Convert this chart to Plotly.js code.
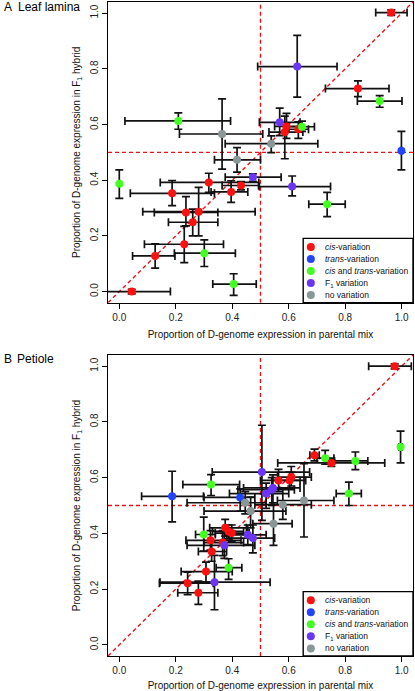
<!DOCTYPE html>
<html>
<head>
<meta charset="utf-8">
<script src="https://cdn.plot.ly/plotly-3.0.1.min.js"></script>
<style>html,body{margin:0;padding:0;background:#fff;}#chart{width:415px;height:691px;}</style>
</head>
<body>
<div id="chart"></div>
<script>
// ---------- Data: Panel A (Leaf lamina) ----------
var aX    = [0.963,0.630,0.845,0.922,0.209,0.568,0.592,0.586,0.634,0.647,0.364,0.538,0.417,0.999,0.736,0.473,0.000,0.317,0.431,0.612,0.187,0.396,0.236,0.281,0.260,0.230,0.127,0.301,0.405,0.044];
var aY    = [1.002,0.808,0.729,0.684,0.613,0.608,0.593,0.573,0.583,0.592,0.566,0.531,0.473,0.506,0.314,0.411,0.387,0.392,0.381,0.377,0.353,0.358,0.284,0.287,0.249,0.170,0.128,0.138,0.027,0.000];
var aXlo  = [0.908,0.490,0.730,0.843,0.020,0.496,0.550,0.530,0.600,0.600,0.213,0.375,0.337,0.999,0.671,0.375,0.000,0.145,0.364,0.496,0.039,0.325,0.124,0.083,0.174,0.089,0.047,0.195,0.331,-0.050];
var aXhi  = [1.019,0.771,0.955,1.001,0.394,0.640,0.640,0.650,0.670,0.691,0.508,0.703,0.500,0.999,0.800,0.573,0.000,0.494,0.493,0.748,0.337,0.455,0.349,0.481,0.349,0.369,0.197,0.411,0.485,0.181];
var aYlo  = [0.992,0.698,0.700,0.662,0.583,0.560,0.550,0.477,0.550,0.575,0.440,0.499,0.429,0.437,0.269,0.396,0.335,0.356,0.365,0.344,0.309,0.320,0.236,0.200,0.200,0.104,0.084,0.090,-0.014,-0.008];
var aYhi  = [1.012,0.920,0.757,0.704,0.642,0.659,0.640,0.630,0.610,0.612,0.692,0.559,0.517,0.575,0.356,0.423,0.437,0.425,0.395,0.415,0.399,0.398,0.341,0.374,0.296,0.234,0.171,0.186,0.064,0.008];
var aCat  = ['cis','F1','cis','both','both','F1','cis','cis','cis','both','none','none','none','trans','both','F1','both','cis','cis','F1','cis','cis','cis','cis','cis','cis','cis','both','both','cis'];

// ---------- Data: Panel B (Petiole) ----------
var bX    = [0.975,0.996,0.691,0.729,0.751,0.836,0.813,0.505,0.325,0.187,0.428,0.564,0.603,0.609,0.544,0.540,0.520,0.446,0.465,0.579,0.654,0.546,0.299,0.323,0.375,0.387,0.398,0.366,0.372,0.327,0.455,0.473,0.387,0.307,0.242,0.337,0.280];
var bY    = [1.000,0.710,0.680,0.670,0.653,0.660,0.543,0.620,0.575,0.533,0.529,0.590,0.590,0.602,0.563,0.557,0.543,0.510,0.480,0.503,0.518,0.435,0.396,0.375,0.420,0.407,0.401,0.367,0.357,0.335,0.395,0.383,0.277,0.263,0.221,0.225,0.187];
var bXlo  = [0.883,0.990,0.675,0.700,0.561,0.762,0.768,0.329,0.225,0.079,0.300,0.500,0.540,0.560,0.440,0.420,0.390,0.240,0.300,0.480,0.560,0.473,0.270,0.236,0.320,0.330,0.340,0.300,0.240,0.280,0.380,0.390,0.343,0.219,0.142,0.144,0.207];
var bXhi  = [1.034,1.002,0.708,0.760,0.940,0.880,0.857,0.674,0.426,0.298,0.480,0.640,0.660,0.680,0.640,0.620,0.600,0.520,0.590,0.680,0.760,0.612,0.340,0.431,0.450,0.440,0.460,0.440,0.480,0.380,0.520,0.550,0.434,0.400,0.333,0.534,0.349];
var bYlo  = [0.990,0.653,0.660,0.648,0.640,0.629,0.500,0.447,0.536,0.441,0.480,0.550,0.560,0.570,0.510,0.500,0.490,0.470,0.420,0.450,0.387,0.357,0.336,0.340,0.390,0.380,0.370,0.320,0.310,0.300,0.360,0.330,0.235,0.225,0.180,0.126,0.145];
var bYhi  = [1.008,0.767,0.702,0.698,0.665,0.692,0.584,0.788,0.611,0.623,0.560,0.630,0.620,0.640,0.610,0.600,0.580,0.550,0.530,0.560,0.650,0.510,0.458,0.410,0.450,0.430,0.430,0.410,0.400,0.370,0.430,0.430,0.309,0.297,0.261,0.321,0.229];
var bCat  = ['cis','both','cis','both','cis','both','both','F1','both','trans','trans','cis','cis','cis','F1','F1','F1','none','none','none','none','none','both','cis','cis','cis','cis','cis','F1','cis','F1','F1','both','cis','cis','F1','cis'];

// ---------- Labels ----------
var catKeys   = ['cis','trans','both','F1','none'];
var catLabels = ['<i>cis</i>-variation','<i>trans</i>-variation','<i>cis</i> and <i>trans</i>-variation','F<sub>1</sub> variation','no variation'];
var tickVals  = [0,0.2,0.4,0.6,0.8,1.0];
var tickText  = ['0.0','0.2','0.4','0.6','0.8','1.0'];
var xTitle = 'Proportion of D-genome expression in parental mix';
var yTitle = 'Proportion of D-genome expression in F<sub>1</sub> hybrid';

// ---------- Styles ----------
var catColor = {cis:'#FF1010', trans:'#2344FF', both:'#44FF22', F1:'#6B35F5', none:'#899797'};
var FONT = 'Liberation Sans, Arial, Helvetica, sans-serif';

function diff(a,b){return a.map(function(v,i){return v-b[i];});}
function panelTrace(X,Y,Xlo,Xhi,Ylo,Yhi,C,xa,ya){
  return {
    type:'scatter', mode:'markers', x:X, y:Y, xaxis:xa, yaxis:ya, showlegend:false, hoverinfo:'skip',
    marker:{size:8, color:C.map(function(c){return catColor[c];}), line:{width:0}},
    error_x:{type:'data', symmetric:false, array:diff(Xhi,X), arrayminus:diff(X,Xlo), color:'#111', thickness:1.7, width:4},
    error_y:{type:'data', symmetric:false, array:diff(Yhi,Y), arrayminus:diff(Y,Ylo), color:'#111', thickness:1.7, width:4}
  };
}
var data = [
  panelTrace(aX,aY,aXlo,aXhi,aYlo,aYhi,aCat,'x','y'),
  panelTrace(bX,bY,bXlo,bXhi,bYlo,bYhi,bCat,'x2','y2')
];

function xAxis(anchor){
  return {anchor:anchor, domain:[0,1], range:[-0.04,1.04], tickvals:tickVals, ticktext:tickText,
    ticks:'outside', ticklen:5, tickwidth:1, tickcolor:'#000', showline:true, mirror:true, linecolor:'#000', linewidth:1.3,
    showgrid:false, zeroline:false, tickfont:{family:FONT,size:10,color:'#222'},
    title:{text:xTitle, font:{family:FONT,size:10,color:'#111'}, standoff:9}};
}
function yAxis(anchor,domain){
  return {anchor:anchor, domain:domain, range:[-0.04,1.04], tickvals:tickVals, ticktext:tickText, tickangle:-90,
    ticks:'outside', ticklen:5, tickwidth:1, tickcolor:'#000', showline:true, mirror:true, linecolor:'#000', linewidth:1.3,
    showgrid:false, zeroline:false, tickfont:{family:FONT,size:10,color:'#222'},
    title:{text:yTitle, font:{family:FONT,size:10,color:'#111'}, standoff:6}};
}

var shapes = [], annotations = [];
[['x','y'],['x2','y2']].forEach(function(p){
  var dl = {color:'#E8141C', width:1.4, dash:'4px,3px'};
  shapes.push({type:'line', xref:p[0], yref:p[1], x0:0.5, x1:0.5, y0:-0.04, y1:1.04, line:dl, layer:'below'});
  shapes.push({type:'line', xref:p[0], yref:p[1], x0:-0.04, x1:1.04, y0:0.5, y1:0.5, line:dl, layer:'below'});
  shapes.push({type:'line', xref:p[0], yref:p[1], x0:-0.04, x1:1.04, y0:-0.04, y1:1.04, line:dl, layer:'below'});
  // legend box
  var xd = p[0]+' domain', yd = p[1]+' domain';
  shapes.push({type:'rect', xref:xd, yref:yd, x0:0.64, x1:1.0, y0:0.0, y1:0.214, fillcolor:'#fff', line:{color:'#000', width:1.4}, layer:'above'});
  catKeys.forEach(function(k,i){
    var yy = (55.8 - 12.05*i)/300.7;
    shapes.push({type:'circle', xref:xd, yref:yd, xsizemode:'pixel', ysizemode:'pixel', xanchor:0.665, yanchor:yy,
      x0:-4, x1:4, y0:-4, y1:4, fillcolor:catColor[k], line:{width:0}, layer:'above'});
    annotations.push({xref:xd, yref:yd, x:0.706, y:yy, xanchor:'left', yanchor:'middle', showarrow:false,
      text:catLabels[i], font:{family:FONT, size:8.5, color:'#111'}});
  });
});
annotations.push({xref:'paper', yref:'paper', x:(1.5-108)/305, y:(656-7.5)/654, xanchor:'left', yanchor:'middle', showarrow:false, text:'A', font:{family:FONT,size:12,color:'#000'}});
annotations.push({xref:'paper', yref:'paper', x:(16-108)/305, y:(656-7.5)/654, xanchor:'left', yanchor:'middle', showarrow:false, text:'Leaf lamina', font:{family:FONT,size:12,color:'#000'}});
annotations.push({xref:'paper', yref:'paper', x:(1.5-108)/305, y:(656-359)/654, xanchor:'left', yanchor:'middle', showarrow:false, text:'B', font:{family:FONT,size:12,color:'#000'}});
annotations.push({xref:'paper', yref:'paper', x:(14.5-108)/305, y:(656-359)/654, xanchor:'left', yanchor:'middle', showarrow:false, text:'Petiole', font:{family:FONT,size:12,color:'#000'}});

var layout = {
  width:415, height:691, margin:{l:108, r:2, t:2, b:35}, paper_bgcolor:'#fff', plot_bgcolor:'#fff',
  showlegend:false, font:{family:FONT},
  xaxis:xAxis('y'), yaxis:yAxis('x',[0.5402,1.0]),
  xaxis2:xAxis('y2'), yaxis2:yAxis('x2',[0,0.4602]),
  shapes:shapes, annotations:annotations
};
Plotly.newPlot('chart', data, layout, {displayModeBar:false, staticPlot:true});
</script>
</body>
</html>
